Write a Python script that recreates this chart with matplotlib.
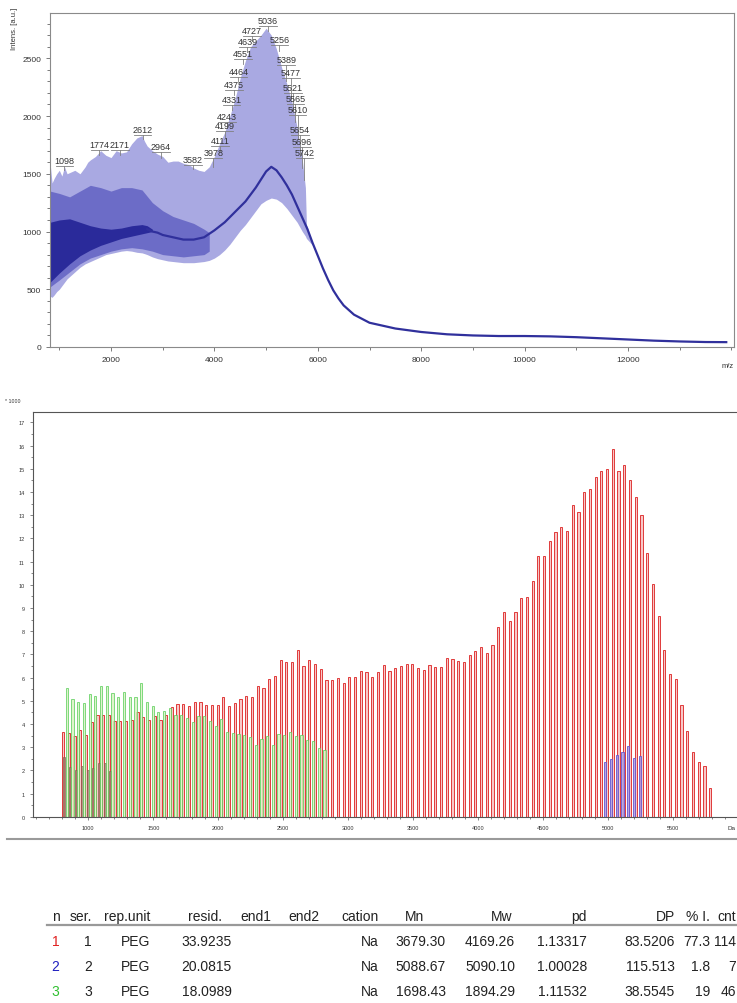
import numpy as np
import matplotlib
matplotlib.use("Agg")
import matplotlib.pyplot as plt
from matplotlib.lines import Line2D
from matplotlib.ticker import MultipleLocator, FixedLocator

plt.rcParams['font.family'] = ['Liberation Sans', 'DejaVu Sans']

# ---- top panel: MALDI spectrum (envelopes) ----
spec_mz = [820, 860, 900, 950, 1000, 1050, 1100, 1150, 1200, 1300, 1400, 1500, 1550, 1600,
           1700, 1800, 1900, 2000, 2100, 2200, 2300, 2400, 2500, 2600, 2650, 2700, 2800,
           2900, 3000, 3100, 3200, 3300, 3400, 3500, 3600, 3700, 3800, 3900, 4000, 4100,
           4200, 4300, 4400, 4500, 4600, 4700, 4800, 4900, 5000, 5100, 5200, 5300, 5400,
           5500, 5600, 5700, 5760, 5780, 5900, 6000]
spec_hi = [1600, 1420, 1460, 1500, 1530, 1480, 1560, 1500, 1510, 1530, 1500, 1560, 1600, 1620,
           1650, 1700, 1660, 1640, 1700, 1680, 1690, 1760, 1810, 1830, 1780, 1740, 1700,
           1670, 1650, 1600, 1610, 1610, 1590, 1580, 1550, 1530, 1520, 1560, 1650, 1760,
           1860, 2000, 2150, 2330, 2480, 2600, 2650, 2700, 2760, 2700, 2580, 2420, 2280,
           2120, 1900, 1620, 1380, 1060, 900, 790]
spec_lo = [440, 430, 450, 480, 500, 530, 560, 590, 610, 650, 690, 720, 730, 740,
           760, 780, 800, 810, 820, 830, 835, 830, 820, 815, 808, 800, 780,
           765, 755, 745, 740, 735, 730, 730, 730, 735, 740, 750, 770, 800,
           840, 890, 950, 1010, 1060, 1120, 1180, 1240, 1270, 1290, 1280, 1250, 1200,
           1140, 1080, 1000, 960, 940, 880, 780]

mid_mz = [820, 1000, 1200, 1400, 1600, 1800, 2000, 2200, 2400, 2600, 2800, 3000, 3200,
          3400, 3600, 3800, 3900]
mid_hi = [1350, 1330, 1300, 1350, 1400, 1380, 1350, 1380, 1380, 1360, 1250, 1180, 1130,
          1100, 1070, 1020, 990]
mid_lo = [520, 580, 650, 720, 770, 800, 830, 850, 860, 850, 830, 800, 790,
          780, 790, 800, 830]

core_mz = [820, 1000, 1200, 1400, 1600, 1800, 2000, 2200, 2400, 2600, 2700, 2800]
core_hi = [1080, 1100, 1110, 1080, 1050, 1030, 1020, 1030, 1050, 1060, 1050, 1020]
core_lo = [560, 640, 720, 790, 840, 880, 910, 940, 960, 980, 990, 1000]

line_mz = [2700, 2800, 2900, 3000, 3200, 3400, 3600, 3800, 3900, 4000, 4200, 4400, 4600,
           4800, 4900, 5000, 5100, 5200, 5300, 5400, 5500, 5600, 5700, 5800, 5900, 6000,
           6100, 6200, 6300, 6400, 6500, 6700, 7000, 7500, 8000, 8500, 9000, 9500, 10000,
           10500, 11000, 11500, 12000, 12500, 13000, 13500, 13900]
line_y = [1020, 1000, 990, 970, 950, 930, 930, 950, 980, 1010, 1080, 1170, 1260,
          1380, 1450, 1520, 1560, 1530, 1470, 1400, 1320, 1220, 1120, 1020, 900, 790,
          680, 580, 490, 420, 360, 280, 210, 160, 130, 110, 100, 95, 95,
          92, 85, 75, 65, 55, 48, 43, 42]

label_mz = [1098, 1774, 2171, 2612, 2964, 3582, 3978, 4111, 4199, 4243, 4331, 4375, 4464,
            4551, 4639, 4727, 5036, 5256, 5389, 5477, 5521, 5565, 5610, 5654, 5696, 5742]
label_y = [1570, 1706, 1706, 1835, 1691, 1576, 1636, 1738, 1870, 1946, 2095, 2225, 2340,
           2494, 2595, 2695, 2782, 2617, 2442, 2329, 2199, 2107, 2006, 1838, 1729, 1634]
label_peak = [1530, 1660, 1660, 1800, 1640, 1540, 1560, 1700, 1820, 1900, 2050, 2180, 2300,
              2450, 2550, 2650, 2740, 2560, 2300, 2150, 2050, 1950, 1800, 1650, 1550, 1450]

# ---- middle panel: series intensities (x 1000), one value per DP ----
peg_unit = 44.05
na_mass = 22.99

red_dp0 = 17
red_h = [3.66, 3.61, 3.49, 3.74, 3.52, 4.07, 4.40, 4.38, 4.38, 4.11, 4.11, 4.14, 4.17, 4.50,
         4.31, 4.17, 4.33, 4.16, 4.38, 4.71, 4.86, 4.86, 4.76, 4.93, 4.93, 4.82, 4.83, 4.83,
         5.14, 4.79, 4.89,
         5.07, 5.22, 5.17, 5.65, 5.53, 5.94, 6.08, 6.75, 6.65, 6.65, 7.20, 6.51, 6.75, 6.58,
         6.37, 5.91, 5.90, 5.96, 5.76, 6.03, 6.03, 6.29, 6.25, 6.01, 6.22, 6.55, 6.29, 6.42,
         6.51, 6.58, 6.58, 6.42, 6.34, 6.52, 6.44,
         6.44, 6.84, 6.80, 6.70, 6.65, 6.98, 7.13, 7.30, 7.04, 7.41, 8.16, 8.81, 8.45, 8.81,
         9.43, 9.46, 10.15, 11.25, 11.25, 11.87, 12.28, 12.50, 12.31, 13.45, 13.15, 13.98,
         14.13, 14.63, 14.89, 14.99, 15.85, 14.89, 15.16, 14.51, 13.77, 13.00,
         11.37, 10.03, 8.66, 7.20, 6.15, 5.94, 4.83, 3.71, 2.80, 2.34, 2.20, 1.22]

blue_dp0 = 112
blue_h = [2.37, 2.49, 2.67, 2.77, 3.03, 2.51, 2.61]

green_dp0 = 18
green_h = [5.53, 5.07, 4.93, 4.90, 5.29, 5.19, 5.65, 5.65, 5.32, 5.14, 5.36, 5.17, 5.17,
           5.76, 4.93, 4.76, 4.50, 4.57, 4.67, 4.38, 4.38, 4.24, 4.07, 4.35, 4.35, 4.11,
           3.92, 4.21, 3.66, 3.60, 3.55,
           3.52, 3.42, 3.09, 3.35, 3.49, 3.09, 3.56, 3.52, 3.66, 3.46, 3.52, 3.32, 3.28,
           2.95, 2.89]

dark_mz = [815, 859, 903, 949, 995, 1038, 1082, 1128, 1167]
dark_h = [2.56, 2.13, 2.03, 2.17, 2.00, 2.10, 2.31, 2.31, 1.98]

# ---- table ----
tab_cols = ['n', 'ser.', 'rep.unit', 'resid.', 'end1', 'end2', 'cation', 'Mn', 'Mw',
            'pd', 'DP', '% I.', 'cnt']
tab_rows = [
    ['1', '1', 'PEG', '33.9235', '', '', 'Na', '3679.30', '4169.26', '1.13317', '83.5206', '77.3', '114'],
    ['2', '2', 'PEG', '20.0815', '', '', 'Na', '5088.67', '5090.10', '1.00028', '115.513', '1.8', '7'],
    ['3', '3', 'PEG', '18.0989', '', '', 'Na', '1698.43', '1894.29', '1.11532', '38.5545', '19', '46'],
]
row_colors = ['#e02020', '#2020c0', '#30c030']

red_resid = float(tab_rows[0][3])
blue_resid = float(tab_rows[1][3])
green_resid = float(tab_rows[2][3])

W, H = 737, 1004
fig = plt.figure(figsize=(W / 100, H / 100), dpi=100)


def px_axes(left, top, right, bottom):
    return fig.add_axes([left / W, 1 - bottom / H, (right - left) / W, (bottom - top) / H])


# ===== top spectrum =====
ax1 = px_axes(50, 14, 734, 348)
ax1.fill_between(spec_mz, spec_lo, spec_hi, color='#a9a9e2', linewidth=0)
ax1.fill_between(mid_mz, mid_lo, mid_hi, color='#6666c4', linewidth=0, alpha=0.9)
ax1.fill_between(core_mz, core_lo, core_hi, color='#2a2a9a', linewidth=0)
ax1.plot(line_mz, line_y, color='#30309c', lw=1.6)

for m, ly, py in zip(label_mz, label_y, label_peak):
    ax1.plot([m - 170, m + 170], [ly, ly], color='#808080', lw=0.6)
    ax1.plot([m, m], [py, ly], color='#808080', lw=0.6)
    ax1.annotate(str(m), (m, ly), xytext=(0, 0.6), textcoords='offset points',
                 ha='center', va='bottom', fontsize=6.5, color='#333333')

ax1.set_xlim(820, 14050)
ax1.set_ylim(0, 2892)
ax1.xaxis.set_major_locator(FixedLocator(np.arange(2000, 13000, 2000)))
ax1.xaxis.set_minor_locator(MultipleLocator(1000))
ax1.yaxis.set_major_locator(MultipleLocator(500))
ax1.yaxis.set_minor_locator(MultipleLocator(100))
ax1.tick_params(which='both', direction='out', colors='#666666', labelcolor='#333333',
                labelsize=6, width=0.6)
ax1.tick_params(which='major', length=3)
ax1.tick_params(which='minor', length=2)
for s in ax1.spines.values():
    s.set_color('#8a8a8a')
    s.set_linewidth(0.8)
fig.text(14 / W, 1 - 8 / H, 'Intens. [a.u.]', rotation=90, ha='center', va='top',
         fontsize=5.5, color='#333333')
fig.text(728 / W, 1 - 366 / H, 'm/z', ha='center', va='center', fontsize=5.5, color='#333333')

# ===== middle bar chart =====
ax2 = px_axes(33, 413, 745, 817.7)
red_x = (np.arange(len(red_h)) + red_dp0) * peg_unit + red_resid + na_mass
green_x = (np.arange(len(green_h)) + green_dp0) * peg_unit + green_resid + na_mass
blue_x = (np.arange(len(blue_h)) + blue_dp0) * peg_unit + blue_resid + na_mass

ax2.bar(red_x, red_h, width=17, facecolor='#f8c8c8', edgecolor='#e03a3a', linewidth=0.7)
ax2.bar(dark_mz, dark_h, width=17, facecolor='#a08070', edgecolor='#8a6050', linewidth=0.6,
        alpha=0.8)
ax2.bar(green_x, green_h, width=17, facecolor='#d8f2c0', edgecolor='#60d060', linewidth=0.7,
        alpha=0.8)
ax2.bar(blue_x, blue_h, width=17, facecolor='#b0a0e0', edgecolor='#6a5ad0', linewidth=0.7,
        alpha=0.9)

ax2.set_xlim(574.6, 6051.5)
ax2.set_ylim(0, 17.45)
ax2.xaxis.set_major_locator(FixedLocator(np.arange(1000, 6000, 500)))
ax2.xaxis.set_minor_locator(MultipleLocator(100))
ax2.yaxis.set_major_locator(MultipleLocator(1))
ax2.yaxis.set_minor_locator(MultipleLocator(0.5))
ax2.tick_params(which='both', direction='out', colors='#555555', labelcolor='#333333',
                labelsize=4, width=0.5)
ax2.tick_params(which='major', length=2.5)
ax2.tick_params(which='minor', length=1.5)
for s in ax2.spines.values():
    s.set_color('#555555')
    s.set_linewidth(0.8)
fig.text(5 / W, 1 - 402 / H, '* 1000', ha='left', va='center', fontsize=3.8, color='#333333')
fig.text(736 / W, 1 - 828 / H, 'Da', ha='right', va='center', fontsize=4.5, color='#333333')

fig.add_artist(Line2D([7 / W, 1], [1 - 840 / H, 1 - 840 / H], color='#9a9a9a', lw=1.5))

# ===== table =====
head_x = [55.5, 92, 150, 222, 240.6, 288.5, 379, 424, 512, 587, 675, 710, 736]
head_ha = ['center', 'right', 'right', 'right', 'left', 'left', 'right', 'right', 'right',
           'right', 'right', 'right', 'right']
cell_x = [55.5, 92, 150, 232, 240.6, 288.5, 379, 446, 515, 587, 675, 710, 736]
head_y = 917
row_y = [942, 967, 992]
for x, ha, t in zip(head_x, head_ha, tab_cols):
    fig.text(x / W, 1 - head_y / H, t, ha=ha, va='center', fontsize=10, color='#222222')
fig.add_artist(Line2D([47 / W, 1], [1 - 926 / H, 1 - 926 / H], color='#999999', lw=1.6))
for r, (row, y) in enumerate(zip(tab_rows, row_y)):
    for c, (x, ha, t) in enumerate(zip(cell_x, head_ha, row)):
        col = row_colors[r] if c == 0 else '#222222'
        fig.text(x / W, 1 - y / H, t, ha=ha, va='center', fontsize=10, color=col)

fig.savefig('out.png', dpi=100)
